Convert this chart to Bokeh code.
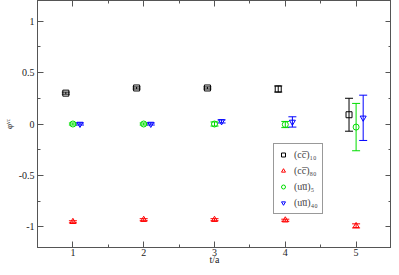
from bokeh.plotting import figure
from bokeh.models import (ColumnDataSource, Whisker, TeeHead, LinearAxis, Range1d,
                          FixedTicker, Legend, LegendItem, CustomJSTickFormatter)
from bokeh.embed import file_html
from bokeh.resources import INLINE

t = [1, 2, 3, 4, 5]
cc10 = [0.30, 0.35, 0.35, 0.34, 0.09]
cc10_err = [0.01, 0.01, 0.01, 0.03, 0.16]
cc80 = [-0.95, -0.93, -0.93, -0.935, -0.99]
cc80_err = [0.01, 0.01, 0.01, 0.01, 0.02]
uu5 = [0.0, 0.0, 0.0, -0.005, -0.03]
uu5_err = [0.01, 0.01, 0.02, 0.03, 0.23]
uu40 = [0.0, 0.0, 0.025, 0.02, 0.06]
uu40_err = [0.01, 0.01, 0.015, 0.05, 0.22]

labels = ["(cc\u0305)\u2081\u2080", "(cc\u0305)\u2088\u2080", "(uu\u0305)\u2085", "(uu\u0305)\u2084\u2080"]
x_title = "t/a"
y_title = "\u03c6\u1d5b\u1d9c"

FONT = "Liberation Serif"
AX = "#555555"

p = figure(width=391, height=267, output_backend="svg", toolbar_location=None,
           x_range=Range1d(0.5, 5.5), y_range=Range1d(-1.2, 1.2),
           min_border_left=0, min_border_right=0, min_border_top=0, min_border_bottom=0)
p.xgrid.visible = False
p.ygrid.visible = False
p.outline_line_color = AX
p.background_fill_color = "white"

xt = FixedTicker(ticks=[1, 2, 3, 4, 5], minor_ticks=[0.5, 1.5, 2.5, 3.5, 4.5, 5.5])
yt = FixedTicker(ticks=[-1, -0.5, 0, 0.5, 1],
                 minor_ticks=[-1.25, -0.75, -0.25, 0.25, 0.75, 1.25])

def style(ax):
    ax.major_tick_in = 6
    ax.major_tick_out = 0
    ax.minor_tick_in = 3
    ax.minor_tick_out = 0
    ax.axis_line_color = AX
    ax.major_tick_line_color = AX
    ax.minor_tick_line_color = AX
    ax.major_label_text_font = FONT
    ax.major_label_text_font_size = "10px"
    ax.major_label_text_color = "#222222"
    ax.axis_label_text_font = FONT
    ax.axis_label_text_font_size = "10px"
    ax.axis_label_text_font_style = "normal"
    ax.axis_label_text_color = "#222222"
    ax.major_label_standoff = 1
    ax.axis_label_standoff = -3

p.xaxis.ticker = xt
p.yaxis.ticker = yt
p.xaxis.axis_label = x_title
p.yaxis.axis_label = y_title
p.xaxis.major_label_overrides = {1: "1", 2: "2", 3: "3", 4: "4", 5: "5"}
p.yaxis.major_label_overrides = {-1: "-1", -0.5: "-0.5", 0: "0", 0.5: "0.5", 1: "1"}
for a in p.xaxis + p.yaxis:
    style(a)
p.xaxis.axis_label_standoff = -5
p.yaxis.axis_label_text_font_size = "9px"
p.yaxis.axis_label_standoff = 2
p.yaxis.major_label_standoff = 3

for loc, tk in (("above", xt), ("right", yt)):
    ax = LinearAxis(ticker=tk, formatter=CustomJSTickFormatter(code="return ''"))
    style(ax)
    ax.major_label_standoff = 0
    ax.axis_label_standoff = 0
    ax.major_label_text_font_size = "0px"
    p.add_layout(ax, loc)

series = [
    (cc10, cc10_err, -0.1, "black", "square"),
    (cc80, cc80_err, 0.0, "red", "triangle"),
    (uu5, uu5_err, 0.0, "#00dd00", "circle"),
    (uu40, uu40_err, 0.1, "blue", "inverted_triangle"),
]

items = []
for (vals, errs, off, col, mk), lab in zip(series, labels):
    src = ColumnDataSource(dict(
        x=[ti + off for ti in t], y=vals,
        lo=[v - e for v, e in zip(vals, errs)],
        hi=[v + e for v, e in zip(vals, errs)]))
    w = Whisker(source=src, base="x", lower="lo", upper="hi", line_color=col, line_width=1,
                upper_head=TeeHead(size=8, line_color=col, line_width=1),
                lower_head=TeeHead(size=8, line_color=col, line_width=1))
    p.add_layout(w)
    r = p.scatter("x", "y", source=src, marker=mk, size=6, line_color=col,
                  fill_color=None, line_width=1)
    items.append(LegendItem(label=lab, renderers=[r]))

leg = Legend(items=items, location=(236, 33))
leg.label_text_font = FONT
leg.label_text_font_size = "10px"
leg.label_height = 13
leg.glyph_height = 13
leg.glyph_width = 10
leg.spacing = 3
leg.padding = 4
leg.margin = 0
leg.label_standoff = 6
leg.border_line_color = "#333333"
leg.border_line_width = 1
leg.background_fill_alpha = 1
p.add_layout(leg, "center")

open("out.html", "w").write(file_html(p, INLINE))
